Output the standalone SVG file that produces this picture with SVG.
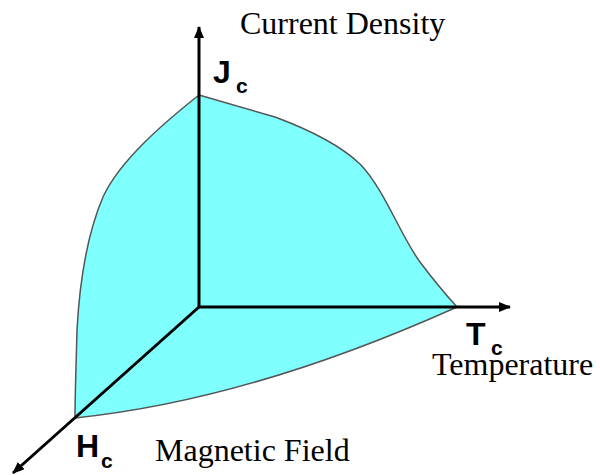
<svg xmlns="http://www.w3.org/2000/svg" width="600" height="475" viewBox="0 0 600 475">
  <style>
    .axis { stroke: #000; stroke-width: 3; fill: none; }
    .lbl { font-family: "Liberation Serif", "Times New Roman", serif; font-size: 32px; fill: #000; }
    .sym { font-family: "Liberation Sans", Arial, sans-serif; font-weight: bold; font-size: 32px; fill: #000; }
    .sub { font-family: "Liberation Sans", Arial, sans-serif; font-weight: bold; font-size: 21px; fill: #000; }
  </style>
  <defs>
    <marker id="arrow" viewBox="0 0 12 10" refX="11" refY="5" markerWidth="12" markerHeight="10" markerUnits="userSpaceOnUse" orient="auto">
      <path d="M0,0 L12,5 L0,10 Z" fill="#000"/>
    </marker>
  </defs>
  <rect width="600" height="475" fill="#fff"/>
  <g id="surface">
    <path d="M199,95 L275,117 C310,130 340,145 360,164 C385,190 400,235 420,262 C435,282 447,296 457,307 Q250,400 75,418 C75,395 76,370 77,330 C80,275 88,232 103,197 C120,160 165,122 199,95 Z" fill="#80ffff" stroke="#555" stroke-width="1.5"/>
  </g>
  <g id="connectors">
    <line class="axis" x1="199" y1="307" x2="199" y2="27" marker-end="url(#arrow)"/>
    <line class="axis" x1="198" y1="307" x2="510" y2="307" marker-end="url(#arrow)"/>
    <line class="axis" x1="199" y1="307" x2="13" y2="473" marker-end="url(#arrow)"/>
  </g>
  <g id="current-density">
    <text class="lbl" x="240" y="34">Current Density</text>
    <text class="sym" x="213" y="83">J</text>
    <text class="sub" x="236" y="93">c</text>
  </g>
  <g id="temperature">
    <text class="sym" x="466" y="345">T</text>
    <text class="sub" x="491" y="355">c</text>
    <text class="lbl" x="432" y="375">Temperature</text>
  </g>
  <g id="magnetic-field">
    <text class="sym" x="76" y="457">H</text>
    <text class="sub" x="101" y="468">c</text>
    <text class="lbl" x="155" y="461">Magnetic Field</text>
  </g>
</svg>
